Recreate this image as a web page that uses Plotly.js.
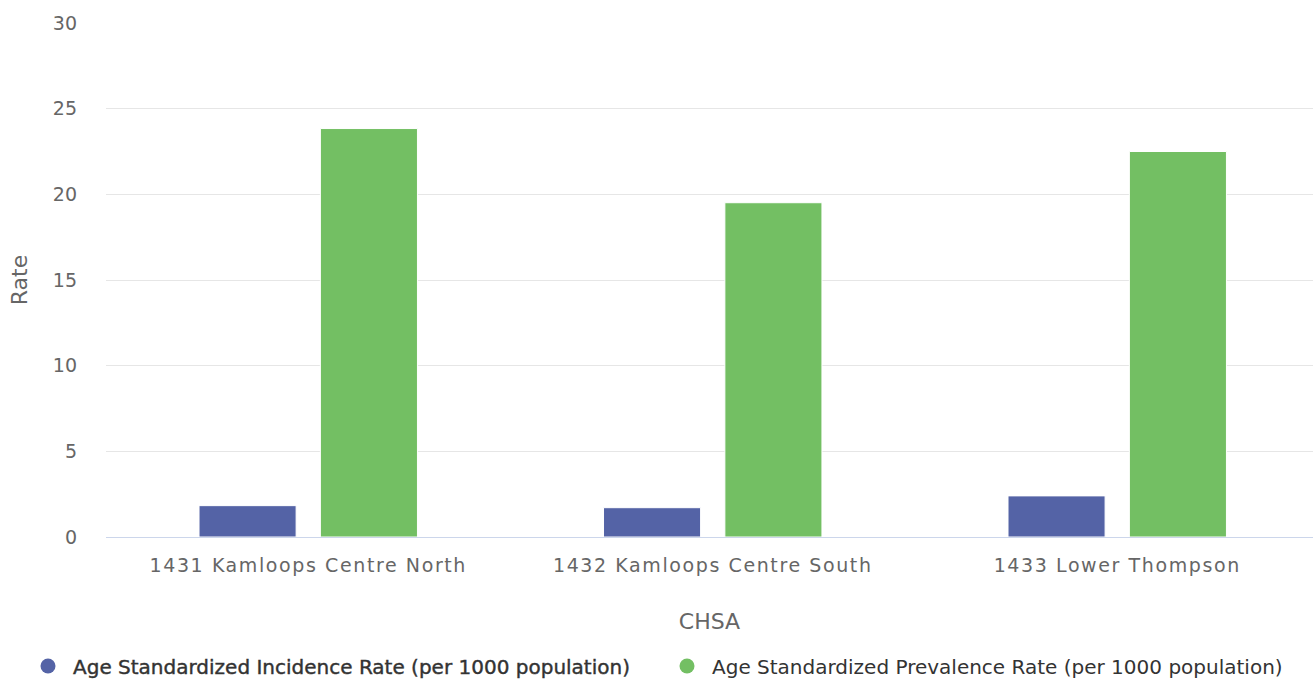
<!DOCTYPE html>
<html>
<head>
<meta charset="utf-8">
<script src="https://cdn.plot.ly/plotly-3.0.1.min.js"></script>
<style>
html,body{margin:0;padding:0;background:#fff;}
#chart{width:1313px;height:680px;}
#chart .xtick text{letter-spacing:1.6px;}
#chart .legendtext{stroke:#333333;stroke-width:0.4px;}
</style>
</head>
<body>
<div id="chart"></div>
<script>
var categories = ["1431 Kamloops Centre North", "1432 Kamloops Centre South", "1433 Lower Thompson"];
var incidenceName = "Age Standardized Incidence Rate (per 1000 population)";
var prevalenceName = "Age Standardized Prevalence Rate (per 1000 population)";
var incidence = [1.83, 1.71, 2.40];
var prevalence = [23.84, 19.51, 22.50];
var yTicks = [0, 5, 10, 15, 20, 25, 30];

var blue = "#5463a6";
var green = "#73bf63";
var font = "DejaVu Sans, Verdana, sans-serif";

var traces = [
  {type: "bar", x: categories, y: incidence, name: incidenceName, marker: {color: blue, line: {color: "#ffffff", width: 1}}, showlegend: false, hoverinfo: "none"},
  {type: "bar", x: categories, y: prevalence, name: prevalenceName, marker: {color: green, line: {color: "#ffffff", width: 1}}, showlegend: false, hoverinfo: "none"},
  {type: "scatter", mode: "markers", x: [null], y: [null], name: incidenceName, legend: "legend", marker: {color: blue, size: 15, symbol: "circle"}},
  {type: "scatter", mode: "markers", x: [null], y: [null], name: prevalenceName, legend: "legend2", marker: {color: green, size: 15, symbol: "circle"}}
];

var legendBase = {
  orientation: "h", xref: "container", yref: "container",
  xanchor: "left", y: 0.0206, yanchor: "middle",
  font: {family: font, size: 20, color: "#333333"},
  itemwidth: 40, bgcolor: "rgba(0,0,0,0)"
};

var layout = {
  width: 1313, height: 680,
  margin: {l: 106, r: 0, t: 23, b: 143},
  paper_bgcolor: "#ffffff", plot_bgcolor: "#ffffff",
  barmode: "group", bargap: 0.4, bargroupgap: 0.2,
  font: {family: font, color: "#666666", size: 19},
  xaxis: {
    type: "category", range: [-0.5, 2.484],
    showgrid: false, zeroline: false,
    showline: true, linecolor: "#ccd6eb", linewidth: 1,
    ticks: "", ticklabelstandoff: 11,
    tickfont: {family: font, size: 19, color: "#666666"},
    title: {text: "CHSA", font: {family: font, size: 22, color: "#666666"}, standoff: 38},
    automargin: false
  },
  yaxis: {
    range: [0, 30], tickvals: yTicks, ticktext: yTicks.map(String),
    showgrid: true, gridcolor: "#e6e6e6", gridwidth: 1,
    zeroline: false, showline: false, ticks: "", ticklabelstandoff: 28,
    tickfont: {family: font, size: 19, color: "#666666"},
    title: {text: "Rate", font: {family: font, size: 22, color: "#666666"}, standoff: 19},
    automargin: false
  },
  showlegend: true,
  legend: Object.assign({}, legendBase, {x: 23 / 1313}),
  legend2: Object.assign({}, legendBase, {x: 662 / 1313})
};

Plotly.newPlot("chart", traces, layout, {displayModeBar: false, staticPlot: true});
</script>
</body>
</html>
